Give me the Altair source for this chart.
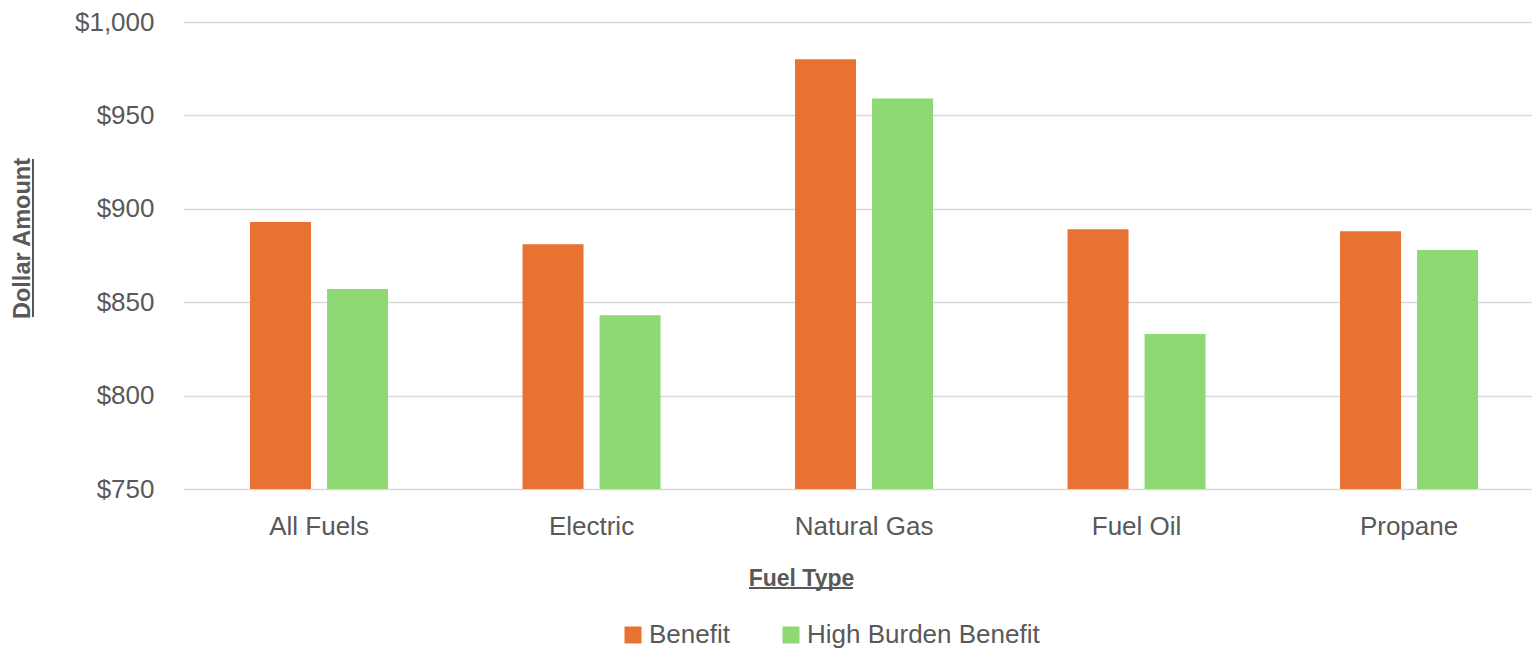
import altair as alt
import pandas as pd

categories = ["All Fuels", "Electric", "Natural Gas", "Fuel Oil", "Propane"]
benefit = [893, 881, 980, 889, 888]
high_burden = [857, 843, 959, 833, 878]
series = ["Benefit", "High Burden Benefit"]
colors = ["#E97132", "#8ED973"]
y_ticks = [750, 800, 850, 900, 950, 1000]

rows = []
for c, b, h in zip(categories, benefit, high_burden):
    rows.append({"fuel": c, "series": series[0], "value": b})
    rows.append({"fuel": c, "series": series[1], "value": h})
df = pd.DataFrame(rows)

FONT = "Liberation Sans"
TEXT = "#595959"

bars = alt.Chart(df).mark_bar(clip=True).encode(
    x=alt.X(
        "fuel:N", sort=categories,
        scale=alt.Scale(paddingInner=0.4936, paddingOuter=0.222, align=0.554),
        axis=alt.Axis(
            title="Fuel Type", labelAngle=0, ticks=False, domain=False,
            labelPadding=24, labelFontSize=26, labelColor=TEXT, labelFont=FONT,
            titleFontSize=23, titleFontWeight="bold", titleColor=TEXT, titleFont=FONT,
            titleX=618, titleY=89, titleBaseline="middle",
        ),
    ),
    xOffset=alt.XOffset("series:N", sort=series, scale=alt.Scale(paddingInner=0.208, paddingOuter=0)),
    y=alt.Y(
        "value:Q",
        scale=alt.Scale(domain=[750, 1000], zero=False, nice=False),
        axis=alt.Axis(
            title="Dollar Amount", values=y_ticks, format="$,.0f",
            ticks=False, domain=False, grid=True, gridColor="#D9D9D9", gridWidth=1.5,
            labelPadding=29, labelFontSize=26, labelColor=TEXT, labelFont=FONT,
            titleFontSize=23.5, titleFontWeight="bold", titleColor=TEXT, titleFont=FONT,
            titleX=-161, titleY=216, titleBaseline="middle", titleAngle=-90,
        ),
    ),
    color=alt.Color(
        "series:N", sort=series,
        scale=alt.Scale(domain=series, range=colors),
        legend=alt.Legend(
            orient="none", legendX=437, legendY=600, direction="horizontal",
            title=None, symbolType="square", symbolSize=289, symbolStrokeWidth=0,
            labelFontSize=26, labelColor=TEXT, labelFont=FONT, labelLimit=0,
            columnPadding=48, labelOffset=3,
        ),
    ),
)

# underlines of the two axis titles
x_title_line = alt.Chart(df).mark_rule(color=TEXT, strokeWidth=1.5).encode(
    x=alt.value(566), x2=alt.value(670), y=alt.value(566)
)
y_title_line = alt.Chart(df).mark_rule(color=TEXT, strokeWidth=1.5).encode(
    x=alt.value(-150), y=alt.value(137), y2=alt.value(295)
)

chart = alt.layer(bars, x_title_line, y_title_line).properties(
    width=1349, height=467,
    autosize=alt.AutoSizeParams(type="none"),
    padding={"left": 175, "top": 14, "right": 0, "bottom": 164},
).configure(background="white").configure_view(strokeWidth=0)

chart.save("out.html", embed_options={"renderer": "svg", "actions": False})
